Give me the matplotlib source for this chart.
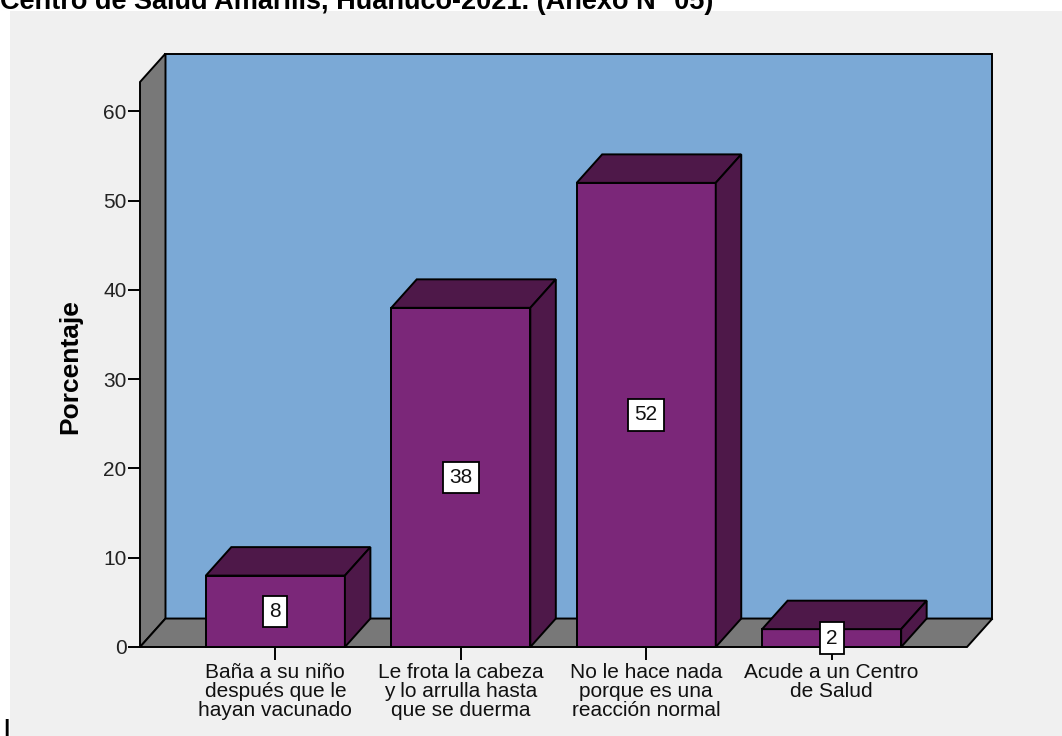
import matplotlib.pyplot as plt
from matplotlib.patches import Polygon, Rectangle

plt.rcParams["font.family"] = ["Liberation Sans", "DejaVu Sans"]

categories = [
    "Baña a su niño\ndespués que le\nhayan vacunado",
    "Le frota la cabeza\ny lo arrulla hasta\nque se duerma",
    "No le hace nada\nporque es una\nreacción normal",
    "Acude a un Centro\nde Salud",
]
percent = [8, 38, 52, 2]
yticks = [0, 10, 20, 30, 40, 50, 60]

title = "Centro de Salud Amarilis, Huánuco-2021. (Anexo N° 05)"

# colours
wall_blue = "#7BA9D6"
wall_gray = "#787878"
bar_front = "#7B2779"
bar_dark = "#4E1849"
panel_bg = "#F0F0F0"

ymax = 63.3
xmin, xmax = -0.73, 3.73
dx, dy = 0.1375, 3.19  # depth offset in data units
bw = 0.75
lw = 1.4

fig = plt.figure(figsize=(10.62, 7.36), dpi=100)
fig.patch.set_facecolor("white")
fig.patches.append(Rectangle((10 / 1062, 0), 1, 1 - 11 / 736, transform=fig.transFigure,
                             facecolor=panel_bg, edgecolor="none", zorder=-5))

fig.text(0.0, 1 - 9 / 736, title, fontsize=19.5, fontweight="bold", ha="left", va="baseline")
fig.text(3 / 1062, -4 / 736, "|", fontsize=16, fontweight="bold", ha="left", va="bottom")

ax = fig.add_axes([140 / 1062, 89 / 736, 827 / 1062, 565 / 736])
ax.set_facecolor("none")
ax.set_zorder(2)
ax.set_xlim(xmin, xmax)
ax.set_ylim(0, ymax)
for s in ax.spines.values():
    s.set_visible(False)

# back wall
ax.add_patch(Rectangle((xmin + dx, dy), xmax - xmin, ymax, facecolor=wall_blue,
                       edgecolor="black", lw=lw, clip_on=False, zorder=1))
# left wall
ax.add_patch(Polygon([(xmin, 0), (xmin + dx, dy), (xmin + dx, ymax + dy), (xmin, ymax)],
                     facecolor=wall_gray, edgecolor="black", lw=lw, clip_on=False, zorder=1.2))
# floor
ax.add_patch(Polygon([(xmin, 0), (xmax, 0), (xmax + dx, dy), (xmin + dx, dy)],
                     facecolor=wall_gray, edgecolor="black", lw=lw, clip_on=False, zorder=1.2))

xs = list(range(len(categories)))
for i, v in zip(xs, percent):
    x0, x1 = i - bw / 2, i + bw / 2
    z = 2 + i
    ax.add_patch(Rectangle((x0, 0), bw, v, facecolor=bar_front, edgecolor="black",
                           lw=lw, zorder=z, clip_on=False))
    ax.add_patch(Polygon([(x0, v), (x1, v), (x1 + dx, v + dy), (x0 + dx, v + dy)],
                         facecolor=bar_dark, edgecolor="black", lw=lw, zorder=z, clip_on=False))
    ax.add_patch(Polygon([(x1, 0), (x1 + dx, dy), (x1 + dx, v + dy), (x1, v)],
                         facecolor=bar_dark, edgecolor="black", lw=lw, zorder=z, clip_on=False))
    ax.text(i, v / 2, str(v), ha="center", va="center", fontsize=15, color="#111111",
            zorder=20, bbox=dict(boxstyle="square,pad=0.3", facecolor="white",
                                 edgecolor="black", linewidth=1.3))

ax.set_yticks(yticks)
ax.set_yticklabels([str(t) for t in yticks])
ax.set_xticks(xs)
ax.set_xticklabels(categories, fontsize=15, linespacing=1.02, color="#111111")
ax.tick_params(axis="y", length=8.6, width=1.4, pad=1, labelsize=15, labelcolor="#222222")
ax.tick_params(axis="x", length=9.4, width=1.4, pad=2)

ax.set_ylabel("Porcentaje", fontsize=19, fontweight="bold", va="center", ha="center")
ax.yaxis.set_label_coords(-0.0846, 0.497)

fig.savefig("out.png", dpi=100)
